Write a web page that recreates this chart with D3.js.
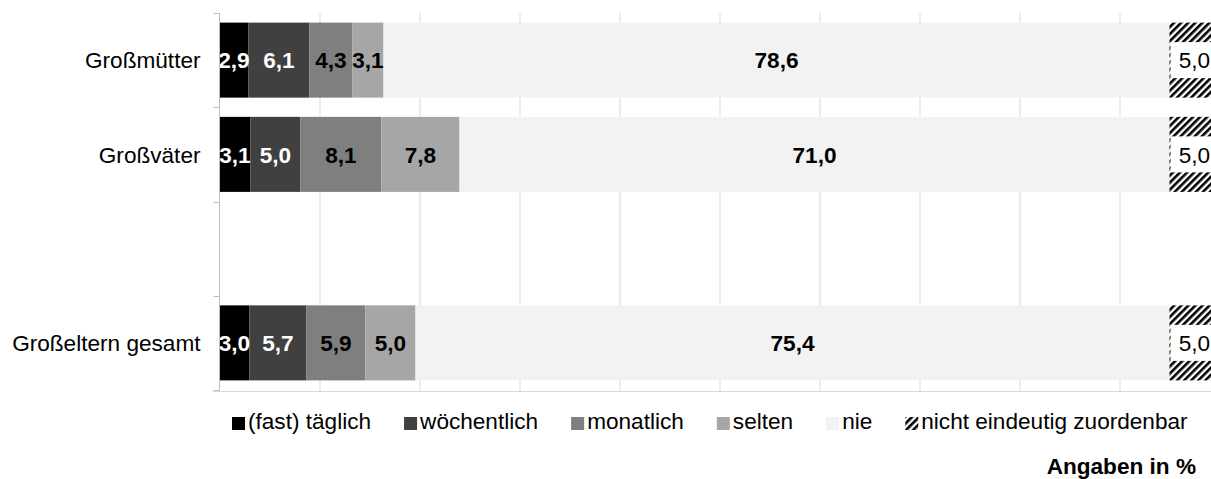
<!DOCTYPE html>
<html>
<head>
<meta charset="utf-8">
<script src="https://cdn.jsdelivr.net/npm/d3@7"></script>
<style>
  body { margin: 0; background: #fff; }
  svg { display: block; font-family: "Liberation Sans", Arial, sans-serif; }
</style>
</head>
<body>
<div id="chart"></div>
<script>
// categories (the empty one is a spacer row in the original chart)
const categories = ['Großmütter', 'Großväter', '', 'Großeltern gesamt'];
const seriesNames = ['(fast) täglich', 'wöchentlich', 'monatlich', 'selten', 'nie', 'nicht eindeutig zuordenbar'];

// values in %, one entry per category
const taeglich     = [2.9, 3.1, 0, 3.0];
const woechentlich = [6.1, 5.0, 0, 5.7];
const monatlich    = [4.3, 8.1, 0, 5.9];
const selten       = [3.1, 7.8, 0, 5.0];
const nie          = [78.6, 71.0, 0, 75.4];
const unklar       = [5.0, 5.0, 0, 5.0];

const xTicks = [10, 20, 30, 40, 50, 60, 70, 80, 90, 100];

const colors = ['#000000', '#404040', '#7f7f7f', '#a6a6a6', '#f2f2f2', 'url(#hatch)'];
const labelColors = ['#fff', '#fff', '#000', '#000', '#000', '#000'];

const width = 1211, height = 479;
const plotTop = 13, plotBottom = 390, plotLeft = 219.5;
const fontSize = '22.6px';

const rows = categories.map((c, i) => ({
    idx: i,
    s0: taeglich[i], s1: woechentlich[i], s2: monatlich[i],
    s3: selten[i], s4: nie[i], s5: unklar[i]
}));
const keys = ['s0', 's1', 's2', 's3', 's4', 's5'];
const stacked = d3.stack().keys(keys)(rows);

const fmt = d3.formatLocale({decimal: ',', thousands: '.', grouping: [3], currency: ['', '€']}).format('.1f');

const svg = d3.select('#chart').append('svg')
    .attr('width', width)
    .attr('height', height);

const defs = svg.append('defs');
const pat = defs.append('pattern')
    .attr('id', 'hatch')
    .attr('patternUnits', 'userSpaceOnUse')
    .attr('width', 5)
    .attr('height', 5)
    .attr('patternTransform', 'rotate(45)');
pat.append('rect').attr('width', 5).attr('height', 5).attr('fill', '#fff');
pat.append('rect').attr('width', 2.6).attr('height', 5).attr('fill', '#000');

const x = d3.scaleLinear().domain([0, 100]).range([plotLeft, plotLeft + 1000]);
const y = d3.scaleBand()
    .domain(d3.range(categories.length))
    .range([plotTop, plotBottom])
    .paddingInner(0.204)
    .paddingOuter(0.102);

// vertical gridlines
svg.append('g')
    .attr('transform', `translate(0,${plotBottom + 1})`)
    .call(d3.axisBottom(x).tickValues(xTicks).tickSize(-(plotBottom + 1 - plotTop)).tickFormat(''))
    .call(g => g.select('.domain').remove())
    .call(g => g.selectAll('.tick line').attr('stroke', '#d9d9d9'));

// bars
const layer = svg.append('g').selectAll('g')
    .data(stacked)
    .enter()
    .append('g')
    .attr('fill', (d, i) => colors[i]);

layer.selectAll('rect')
    .data(d => d.filter(p => p[1] - p[0] > 0))
    .enter()
    .append('rect')
    .attr('x', d => x(d[0]))
    .attr('y', d => y(d.data.idx))
    .attr('width', d => x(d[1]) - x(d[0]))
    .attr('height', y.bandwidth());

// value labels
stacked.forEach((s, si) => {
    const pts = s.filter(p => p[1] - p[0] > 0);
    const g = svg.append('g');
    if (si === 5) {
        const lbl = g.selectAll('g').data(pts).enter().append('g');
        lbl.append('rect')
            .attr('x', d => x(d[0]) + 1)
            .attr('y', d => y(d.data.idx) + y.bandwidth() / 2 - 18)
            .attr('width', 60)
            .attr('height', 36)
            .attr('fill', '#fff');
        lbl.append('text')
            .attr('x', d => (x(d[0]) + x(d[1])) / 2)
            .attr('y', d => y(d.data.idx) + y.bandwidth() / 2)
            .attr('dy', '0.36em')
            .attr('text-anchor', 'middle')
            .attr('font-size', fontSize)
            .attr('fill', '#000')
            .text(d => fmt(d[1] - d[0]));
    } else {
        g.selectAll('text').data(pts).enter().append('text')
            .attr('x', d => (x(d[0]) + x(d[1])) / 2)
            .attr('y', d => y(d.data.idx) + y.bandwidth() / 2)
            .attr('dy', '0.36em')
            .attr('text-anchor', 'middle')
            .attr('font-size', fontSize)
            .attr('font-weight', 'bold')
            .attr('fill', labelColors[si])
            .text(d => fmt(d[1] - d[0]));
    }
});

// left (category) axis
const axisG = svg.append('g');
axisG.append('line')
    .attr('x1', plotLeft).attr('x2', plotLeft)
    .attr('y1', plotTop).attr('y2', plotBottom + 2)
    .attr('stroke', '#bfbfbf');
const bounds = d3.range(categories.length + 1).map(i => plotTop + i * y.step());
axisG.selectAll('line.tick')
    .data(bounds)
    .enter()
    .append('line')
    .attr('class', 'tick')
    .attr('x1', plotLeft - 6).attr('x2', plotLeft)
    .attr('y1', d => Math.round(d) + 0.5).attr('y2', d => Math.round(d) + 0.5)
    .attr('stroke', '#bfbfbf');
axisG.append('line')
    .attr('x1', plotLeft - 7).attr('x2', width)
    .attr('y1', plotBottom + 1.5).attr('y2', plotBottom + 1.5)
    .attr('stroke', '#d9d9d9');
axisG.selectAll('text')
    .data(categories)
    .enter()
    .append('text')
    .attr('x', plotLeft - 19)
    .attr('y', (d, i) => y(i) + y.bandwidth() / 2)
    .attr('dy', '0.36em')
    .attr('text-anchor', 'end')
    .attr('font-size', fontSize)
    .attr('fill', '#000')
    .text(d => d);

// legend
const legend = svg.append('g').attr('transform', 'translate(232,429)');
let lx = 0;
seriesNames.forEach((name, i) => {
    const item = legend.append('g').attr('transform', `translate(${lx},0)`);
    item.append('rect')
        .attr('x', 0).attr('y', -12)
        .attr('width', 13).attr('height', 13)
        .attr('fill', colors[i]);
    const t = item.append('text')
        .attr('x', 16)
        .attr('y', 0)
        .attr('font-size', fontSize)
        .attr('fill', '#000')
        .text(name);
    lx += 16 + t.node().getComputedTextLength() + 33;
});

// unit note
svg.append('text')
    .attr('x', 1196)
    .attr('y', 474)
    .attr('text-anchor', 'end')
    .attr('font-size', fontSize)
    .attr('font-weight', 'bold')
    .attr('fill', '#000')
    .text('Angaben in %');
</script>
</body>
</html>
